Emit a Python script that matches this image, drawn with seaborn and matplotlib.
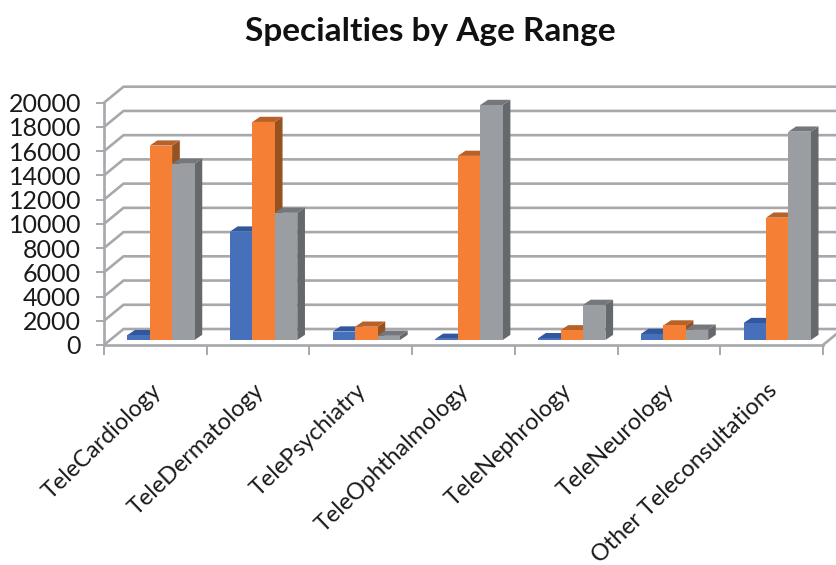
import matplotlib
matplotlib.use("Agg")
import matplotlib.pyplot as plt
from matplotlib.patches import Polygon
from matplotlib.transforms import Affine2D, ScaledTranslation
import pandas as pd
import seaborn as sns

specialties = ["TeleCardiology", "TeleDermatology", "TelePsychiatry", "TeleOphthalmology",
               "TeleNephrology", "TeleNeurology", "Other Teleconsultations"]
range_a = [400, 8950, 700, 100, 150, 500, 1400]
range_b = [16050, 18000, 1100, 15200, 800, 1200, 10100]
range_c = [14550, 10500, 350, 19400, 2900, 850, 17200]
series_names = ["Range A", "Range B", "Range C"]
front_colors = ["#4671BA", "#F58035", "#9A9DA2"]
top_colors = ["#31589F", "#B8622A", "#74777B"]
side_colors = ["#31589F", "#96521F", "#66696C"]
y_ticks = list(range(0, 20001, 2000))

# Projection of the fake 3D box, in data units
WALL_DX, WALL_DY = 0.19, 1320
BAR_DX, BAR_DY = 0.054, 410
DEPTH_DX, DEPTH_DY = 0.075, 430
GRID = "#A7A8AC"

sns.set_theme(style="white")
plt.rcParams["font.family"] = ["Lato", "DejaVu Sans"]

fig = plt.figure(figsize=(8.36, 5.65), dpi=100)
ax = fig.add_axes([104 / 836, (565 - 345) / 565, 719 / 836, 242.3 / 565])
ax.patch.set_alpha(0)

frame = pd.DataFrame({
    "specialty": specialties * 3,
    "series": [s for s in series_names for _ in specialties],
    "count": range_a + range_b + range_c,
})
sns.barplot(data=frame, x="specialty", y="count", hue="series", hue_order=series_names,
            order=specialties, palette=front_colors, saturation=1, width=0.655, gap=0,
            legend=False, ax=ax, zorder=6)

ax.set_xlim(-0.5, 6.5)
ax.set_ylim(0, 20000)

# Walls: a diagonal at each level on the side wall, then a line along the back wall
for v in y_ticks:
    ax.plot([-0.5, -0.5 + WALL_DX, 7.0], [v, v + WALL_DY, v + WALL_DY], color=GRID, lw=1.9,
            clip_on=False, zorder=1, solid_joinstyle="miter")
ax.plot([6.5, 6.5 + WALL_DX], [0, WALL_DY], color=GRID, lw=1.9, clip_on=False, zorder=1)

# Bars sit a little inside the floor; the side and top faces are derived from each front face
shift = Affine2D().translate(BAR_DX, BAR_DY) + ax.transData
for s, container in enumerate(ax.containers):
    for bar in container:
        bar.set_transform(shift)
        bar.set_clip_on(False)
        bar.set_linewidth(0)
        x0, x1, h = bar.get_x(), bar.get_x() + bar.get_width(), bar.get_height()
        top = [(x0, h), (x0 + DEPTH_DX, h + DEPTH_DY), (x1 + DEPTH_DX, h + DEPTH_DY), (x1, h)]
        side = [(x1, 0), (x1 + DEPTH_DX, DEPTH_DY), (x1 + DEPTH_DX, h + DEPTH_DY), (x1, h)]
        for pts, colour in ((side, side_colors[s]), (top, top_colors[s])):
            ax.add_patch(Polygon(pts, closed=True, facecolor=colour, edgecolor="none",
                                 transform=shift, clip_on=False, zorder=2 + s))

for name in ("top", "right"):
    ax.spines[name].set_visible(False)
for name in ("left", "bottom"):
    ax.spines[name].set_color(GRID)
    ax.spines[name].set_linewidth(1.9)
    ax.spines[name].set_zorder(1.5)

ax.set_xlabel("")
ax.set_ylabel("")
ax.set_yticks(y_ticks)
ax.tick_params(axis="y", length=5.5, width=1.4, color=GRID, pad=11, labelsize=18, labelcolor="#1a1a1a", left=True)
ax.set_xticks(range(len(specialties)))
ax.set_xticklabels(specialties, rotation=44, ha="right", rotation_mode="anchor", fontsize=16.8, color="#1a1a1a")
ax.set_xticks([i - 0.5 for i in range(len(specialties) + 1)], minor=True)
ax.tick_params(axis="x", which="major", length=0, pad=25)
ax.tick_params(axis="x", which="minor", length=7, width=1.4, color=GRID, bottom=True)

# Nudge the slanted category labels left of their tick positions
nudge = ScaledTranslation(-0.05, 0, fig.dpi_scale_trans)
for label in ax.get_xticklabels():
    label.set_transform(label.get_transform() + nudge)

fig.text(430 / 836, 1 - 32 / 565, "Specialties by Age Range", ha="center", va="center",
         fontsize=24, fontweight="bold", color="#111111")

fig.savefig("out.png", dpi=100)
